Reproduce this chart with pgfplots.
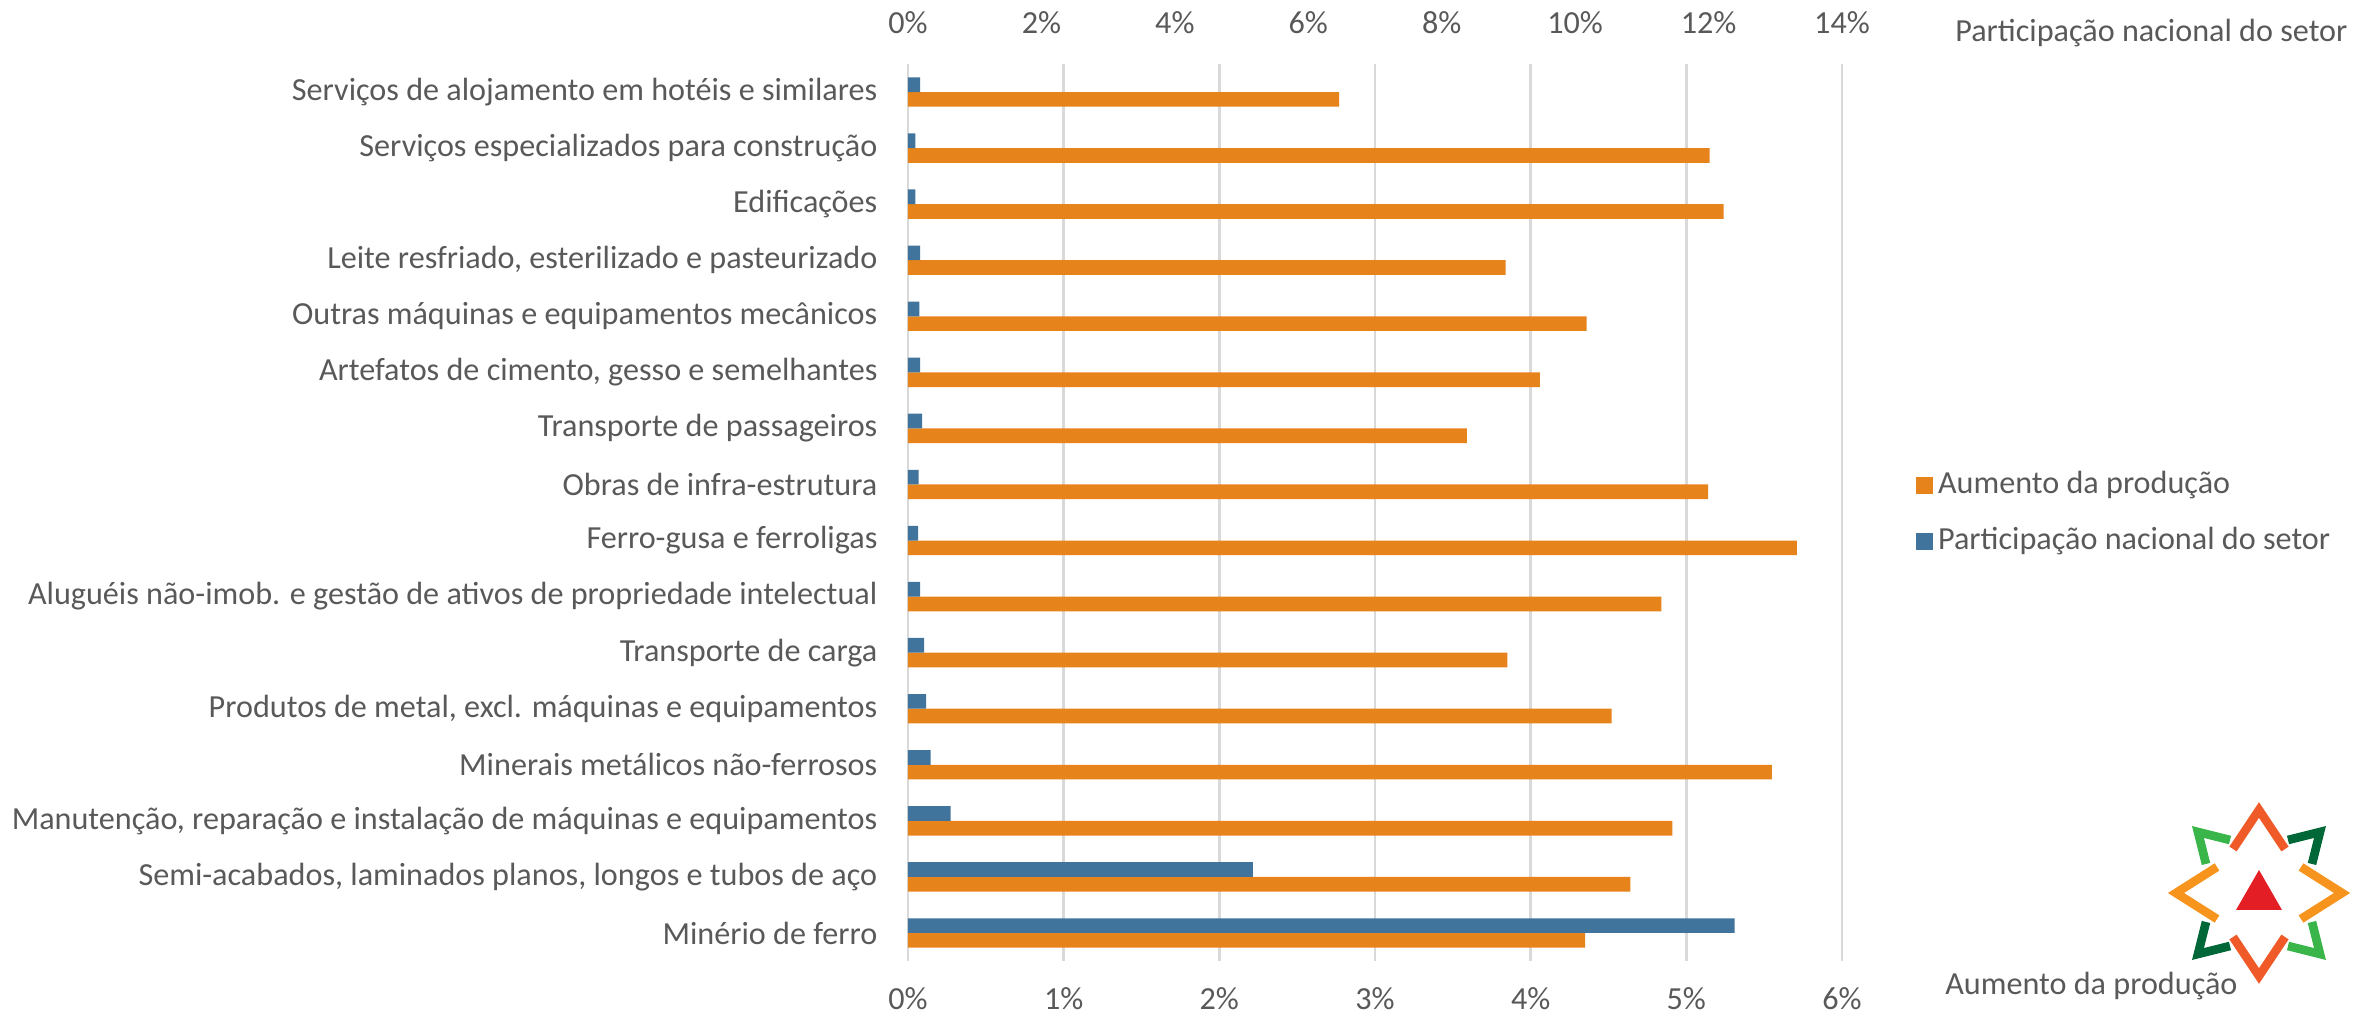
\documentclass[border=0pt]{standalone}
\usepackage{pgfplots}
\pgfplotsset{compat=1.18}
\usepackage{fontspec}
\setmainfont{Carlito}
\definecolor{orangeC}{HTML}{E6831A}
\definecolor{blueC}{HTML}{41749C}
\definecolor{txt}{HTML}{595959}
\definecolor{gridC}{HTML}{D9D9D9}
\definecolor{logoR}{HTML}{F05A28}
\definecolor{logoO}{HTML}{F7941D}
\definecolor{logoLG}{HTML}{39B54A}
\definecolor{logoDG}{HTML}{006838}
\definecolor{logoRed}{HTML}{E31E24}
\begin{document}
\begin{tikzpicture}[font=\fontsize{9.65}{11.6}\selectfont, text=txt]
\useasboundingbox (-272.4pt,-16.5pt) rectangle (439.8pt,288.3pt);
\pgfplotsset{common/.style={
  at={(0pt,0pt)}, anchor=south west,
  width=280.2pt, height=269.1pt, scale only axis,
  xmin=0, ymin=-0.5, ymax=15.5,
  xbar, bar width=0.262,
  axis line style={draw=none}, tick style={draw=none}, major tick length=0pt,
  tick label style={font=\fontsize{9.65}{11.6}\selectfont, text=txt},
}}
\begin{axis}[common, xmax=6,
  xtick={0,1,2,3,4,5,6},
  xticklabels={0\%,1\%,2\%,3\%,4\%,5\%,6\%},
  xticklabel pos=bottom,
  xticklabel style={anchor=center, inner sep=0pt, yshift=-11.2pt},
  xmajorgrids, grid style={gridC, line width=0.75pt},
  ytick={0,...,15},
  yticklabels={
    {Minério de ferro},
    {Semi-acabados, laminados planos, longos e tubos de aço},
    {Manutenção, reparação e instalação de máquinas e equipamentos},
    {Minerais metálicos não-ferrosos},
    {Produtos de metal, excl. máquinas e equipamentos},
    {Transporte de carga},
    {Aluguéis não-imob. e gestão de ativos de propriedade intelectual},
    {Ferro-gusa e ferroligas},
    {Obras de infra-estrutura},
    {Transporte de passageiros},
    {Artefatos de cimento, gesso e semelhantes},
    {Outras máquinas e equipamentos mecânicos},
    {Leite resfriado, esterilizado e pasteurizado},
    {Edificações},
    {Serviços especializados para construção},
    {Serviços de alojamento em hotéis e similares}},
  yticklabel style={anchor=east, inner sep=0pt, xshift=-9pt},
]
\addplot[xbar, bar shift=-0.131, fill=orangeC, draw=none] coordinates {
 (4.35,0) (4.64,1) (4.91,2) (5.55,3) (4.52,4) (3.85,5) (4.84,6) (5.71,7)
 (5.14,8) (3.59,9) (4.06,10) (4.36,11) (3.84,12) (5.24,13) (5.15,14) (2.77,15)};
\end{axis}
\begin{axis}[common, xmax=14,
  xtick={0,2,4,6,8,10,12,14},
  xticklabels={0\%,2\%,4\%,6\%,8\%,10\%,12\%,14\%},
  xticklabel pos=right,
  xticklabel style={anchor=center, inner sep=0pt, yshift=12.3pt},
  ytick=\empty,
  legend image code/.code={\fill[#1] (0pt,-2.55pt) rectangle (5.1pt,2.55pt);},
  legend style={draw=none, fill=none, at={(1.0675,0.4994)}, anchor=west,
    font=\fontsize{9.65}{11.6}\selectfont, text=txt,
    nodes={inner sep=1.6pt, text height=7pt, text depth=2pt},
    row sep=4.6pt},
  legend cell align=left,
]
\addlegendimage{fill=orangeC, draw=none}
\addlegendentry{Aumento da produção}
\addplot[xbar, bar shift=0.131, fill=blueC, draw=none] coordinates {
 (12.39,0) (5.17,1) (0.64,2) (0.34,3) (0.27,4) (0.24,5) (0.18,6) (0.15,7)
 (0.16,8) (0.21,9) (0.18,10) (0.17,11) (0.18,12) (0.11,13) (0.11,14) (0.18,15)};
\addlegendentry{Participação nacional do setor}
\end{axis}
\node[anchor=west, inner sep=0pt, text=txt] at (314pt,278.4pt) {Participação nacional do setor};
\node[anchor=west, inner sep=0pt, text=txt] at (311pt,-7.4pt) {Aumento da produção};
\begin{scope}[shift={(405.3pt,20.4pt)}, x=0.3pt, y=0.3pt, line width=2.6pt, line cap=butt, line join=miter]
\draw[logoR] (-26,44) -- (0,83) -- (26,44);
\draw[logoR] (-26,-44) -- (0,-83) -- (26,-44);
\draw[logoO] (-42,26) -- (-83,0) -- (-42,-26);
\draw[logoO] (42,26) -- (83,0) -- (42,-26);
\draw[logoLG] (-29,53) -- (-61,61) -- (-53,29);
\draw[logoDG] (29,53) -- (61,61) -- (53,29);
\draw[logoDG] (-29,-53) -- (-61,-61) -- (-53,-29);
\draw[logoLG] (29,-53) -- (61,-61) -- (53,-29);
\fill[logoRed] (0,23) -- (-23,-17) -- (23,-17) -- cycle;
\end{scope}
\end{tikzpicture}
\end{document}
